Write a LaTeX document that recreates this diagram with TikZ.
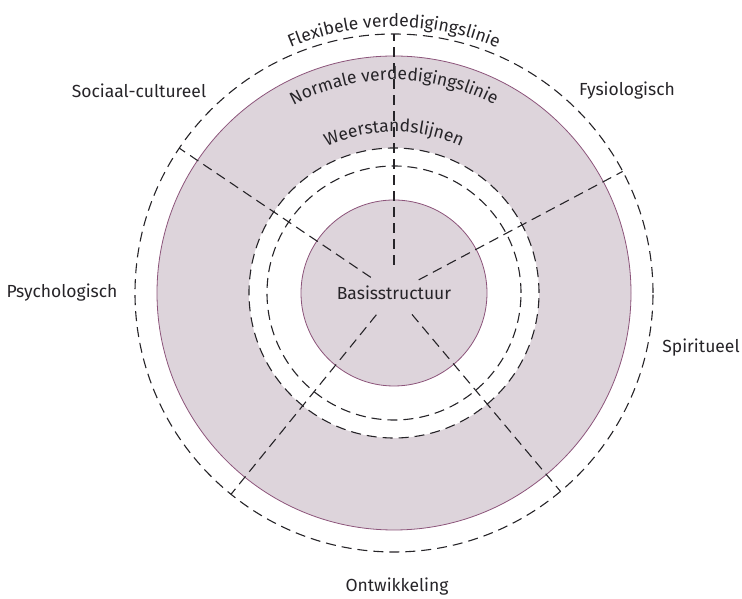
\documentclass[tikz,border=0pt]{standalone}
\usepackage{fontspec}
\setmainfont{Fira Sans}
\usepackage{tikz}
\usetikzlibrary{calc,decorations.text}
\definecolor{ringfill}{RGB}{221,212,219}
\definecolor{ringline}{RGB}{140,84,122}
\definecolor{inkgray}{RGB}{38,36,40}
\newcommand{\ringfont}{\fontsize{17.5}{20}\selectfont}

\begin{document}
\begin{tikzpicture}[x=1pt,y=1pt,
  dashline/.style={draw=inkgray, line width=1.1pt, dash pattern=on 10pt off 6pt},
  zone/.style={circle, inner sep=0pt, outer sep=0pt},
  rim/.style={fill=ringfill, draw=ringline, line width=0.8pt},
  label/.style={font=\ringfont, text=inkgray}]
\useasboundingbox (0,0) rectangle (742,599);
\coordinate (c) at (394,306);
\node[zone, rim, minimum size=474pt] (normal) at (c) {};
\node[zone, fill=white, dashline, minimum size=290pt] (weerout) at (c) {};
\node[zone, dashline, minimum size=254pt] (weerin) at (c) {};
\node[zone, dashline, minimum size=518pt] (flex) at (c) {};
\node[zone, rim, minimum size=186pt, label] (core) at (c) {Basisstructuur};
\node[zone, minimum size=56pt] (hub) at (c) {};
\foreach \a in {90,146,231,310,28}
  \draw[dashline] (hub.\a) -- (flex.\a);
\path[decorate, decoration={text along path, text align=center,
  text={|\ringfont\color{inkgray}|Flexibele verdedigingslinie}}]
  ($(c)+(160:266)$) arc[start angle=160, end angle=20, radius=266];
\path[decorate, decoration={text along path, text align=center,
  text={|\ringfont\color{inkgray}|Normale verdedigingslinie}}]
  ($(c)+(160:213)$) arc[start angle=160, end angle=20, radius=213];
\path[decorate, decoration={text along path, text align=center,
  text={|\ringfont\color{inkgray}|Weerstandslijnen}}]
  ($(c)+(160:161)$) arc[start angle=160, end angle=20, radius=161];
\node[label] (soc) at (139,508) {Sociaal-cultureel};
\node[label] (fys) at (627,508) {Fysiologisch};
\node[label] (psy) at (62,306) {Psychologisch};
\node[label] (spi) at (701,251) {Spiritueel};
\node[label] (ont) at (397,12) {Ontwikkeling};
\end{tikzpicture}
\end{document}
